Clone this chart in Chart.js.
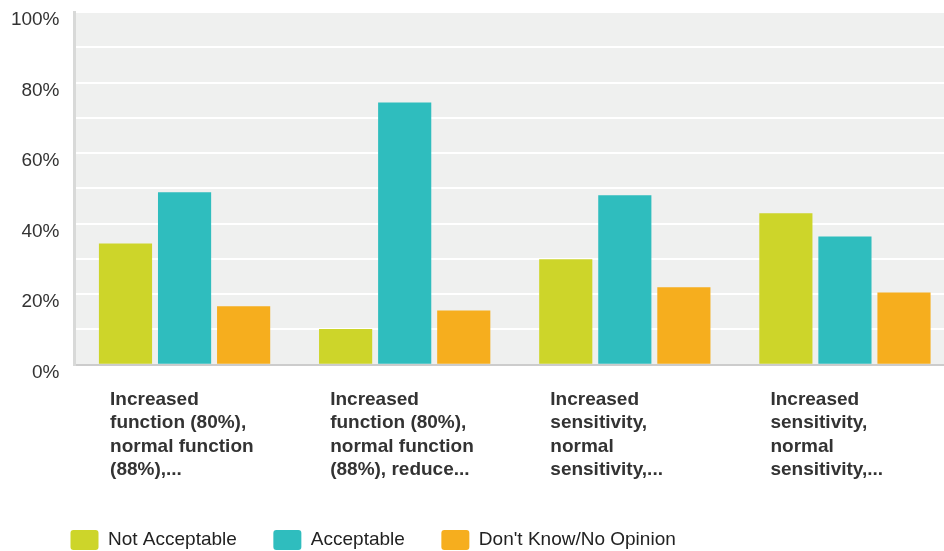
<!DOCTYPE html>
<html>
<head>
<meta charset="utf-8">
<script src="https://cdn.jsdelivr.net/npm/chart.js@4/dist/chart.umd.min.js"></script>
<style>
html, body { margin: 0; padding: 0; width: 944px; height: 551px; overflow: hidden; background: #fff; }
canvas { display: block; }
</style>
</head>
<body>
<canvas id="c" width="955" height="560"></canvas>
<script>
const categories = [
  ["Increased", "function (80%),", "normal function", "(88%),..."],
  ["Increased", "function (80%),", "normal function", "(88%), reduce..."],
  ["Increased", "sensitivity,", "normal", "sensitivity,..."],
  ["Increased", "sensitivity,", "normal", "sensitivity,..."]
];
const seriesNames = ["Not Acceptable", "Acceptable", "Don't Know/No Opinion"];
const notAcceptable = [34.4, 10.1, 29.9, 43.0];
const acceptable = [48.9, 74.4, 48.1, 36.4];
const dontKnow = [16.6, 15.4, 22.0, 20.5];
const yTickLabels = ["0%", "20%", "40%", "60%", "80%", "100%"];
const colors = ["#CDD52A", "#2FBDBE", "#F6AE1E"];

const FONT = '"Liberation Sans", Arial, Helvetica, sans-serif';

const plotBg = {
  id: 'plotBg',
  beforeDraw(chart) {
    const a = chart.chartArea, ctx = chart.ctx;
    ctx.save();
    ctx.fillStyle = '#EFF0EF';
    ctx.fillRect(a.left, a.top, a.right - a.left, a.bottom - a.top);
    ctx.restore();
  }
};

const legendShift = {
  id: 'legendShift',
  afterLayout(chart) {
    if (chart.legend) {
      chart.legend.left += 34;
      chart.legend.right += 34;
    }
  }
};

const values = [notAcceptable, acceptable, dontKnow];
new Chart(document.getElementById('c'), {
  type: 'bar',
  data: {
    labels: categories,
    datasets: seriesNames.map((n, i) => ({
      label: n,
      data: values[i],
      backgroundColor: colors[i],
      borderWidth: 0,
      categoryPercentage: 0.805,
      barPercentage: 0.9
    }))
  },
  options: {
    responsive: false,
    animation: false,
    devicePixelRatio: 1,
    layout: { padding: { left: 0, top: 12.2, right: 0, bottom: 0 } },
    plugins: {
      tooltip: { enabled: false },
      legend: {
        position: 'bottom',
        align: 'start',
        labels: {
          boxWidth: 28,
          boxHeight: 20,
          padding: 36.5,
          useBorderRadius: true,
          borderRadius: 3,
          color: '#222',
          font: { family: FONT, size: 19 }
        }
      }
    },
    scales: {
      x: {
        grid: { display: false, drawTicks: false },
        border: { display: true, color: '#CCCCCC', width: 2 },
        ticks: {
          align: 'start',
          labelOffset: -74.5,
          padding: 23.3,
          maxRotation: 0,
          minRotation: 0,
          autoSkip: false,
          color: '#333',
          font: { family: FONT, size: 19, weight: 'bold', lineHeight: 1.227 }
        },
        afterFit(scale) {
          scale.height = 128.8;
          scale.paddingLeft = 0;
          scale.paddingRight = 0;
        }
      },
      y: {
        min: 0,
        max: 100,
        grid: { color: '#FFFFFF', lineWidth: 2, drawTicks: false },
        border: { display: true, color: '#D8D9D8', width: 3 },
        ticks: {
          stepSize: 10,
          autoSkip: false,
          padding: 15,
          labelOffset: 8,
          color: '#333',
          font: { family: FONT, size: 19 },
          callback: (v) => (v % 20 === 0 ? yTickLabels[v / 20] : '')
        },
        afterFit(scale) {
          scale.width = 74.5;
          scale.paddingTop = 0;
          scale.paddingBottom = 0;
        }
      }
    }
  },
  plugins: [plotBg, legendShift]
});
</script>
</body>
</html>
